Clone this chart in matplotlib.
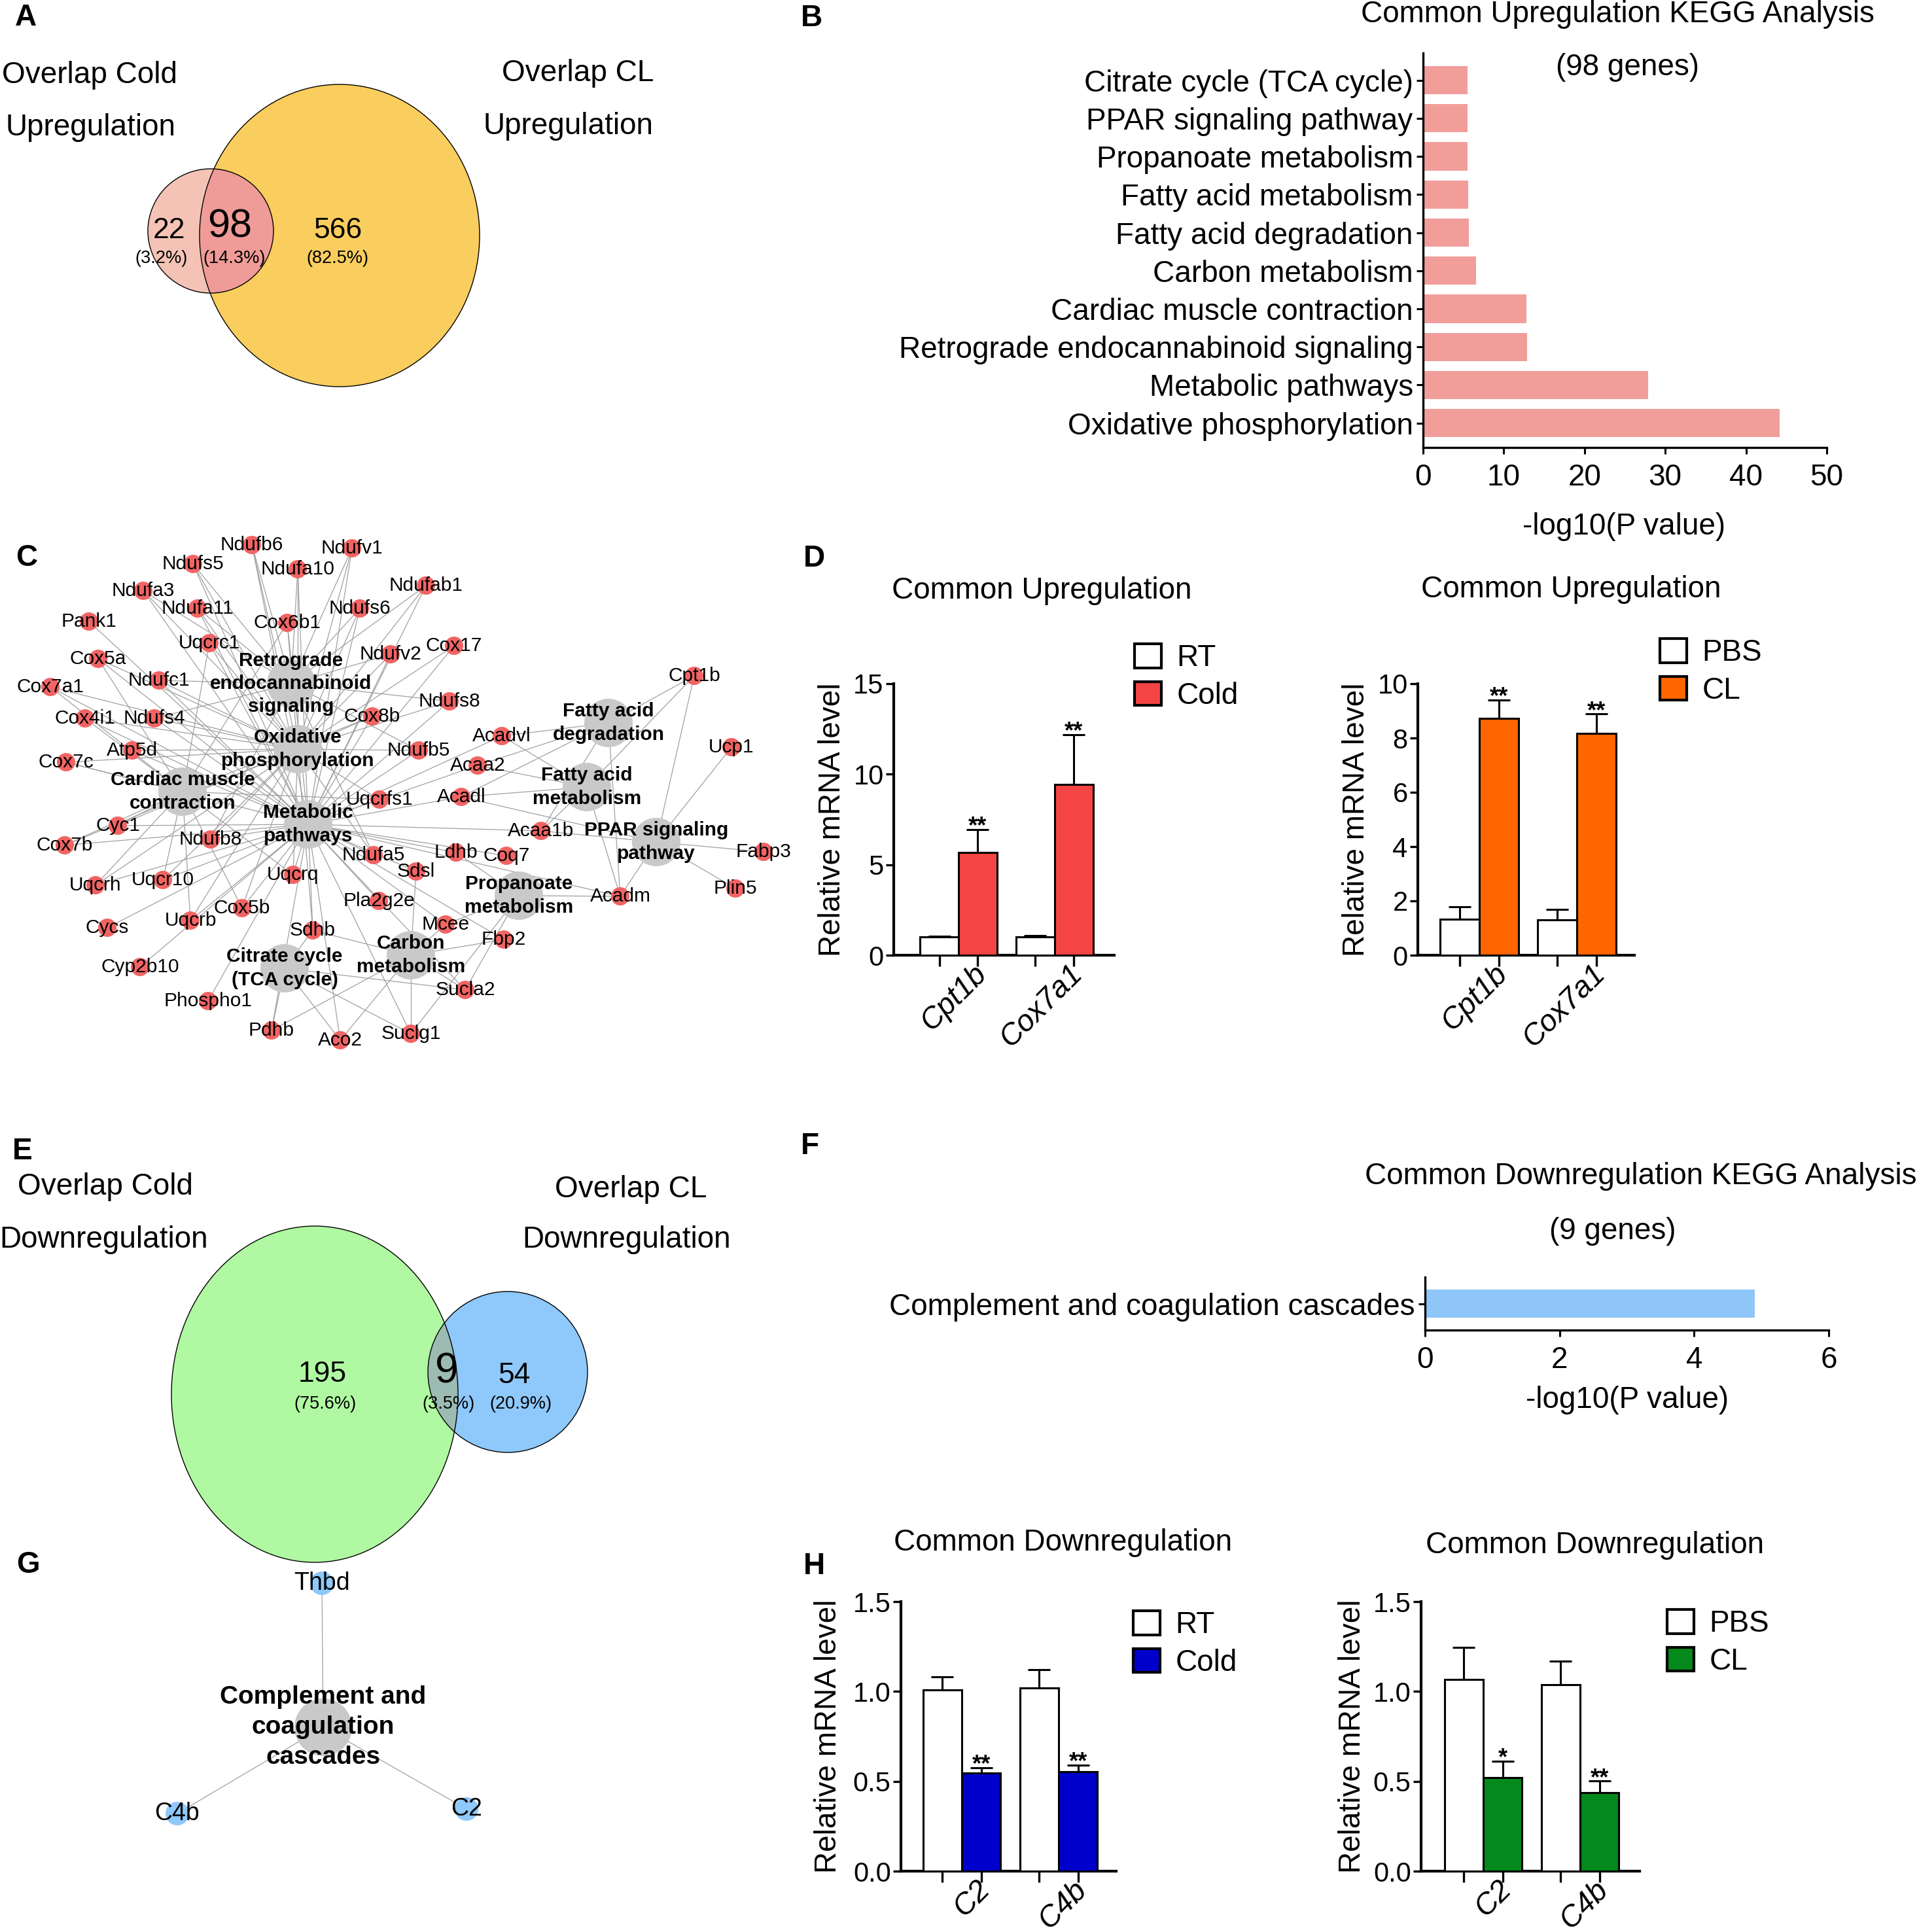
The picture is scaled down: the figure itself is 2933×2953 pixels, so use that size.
import matplotlib
matplotlib.use('Agg')
import matplotlib.pyplot as plt
from matplotlib.patches import Ellipse, Circle, Patch
from matplotlib.collections import LineCollection
import matplotlib.transforms as mtransforms
import numpy as np

plt.rcParams['font.family'] = ['Liberation Sans', 'DejaVu Sans']

# ---------------- data ----------------
venn_up_counts = ['22', '98', '566']
venn_up_pcts = ['(3.2%)', '(14.3%)', '(82.5%)']
venn_down_counts = ['195', '9', '54']
venn_down_pcts = ['(75.6%)', '(3.5%)', '(20.9%)']

kegg_up_terms = ['Citrate cycle (TCA cycle)', 'PPAR signaling pathway', 'Propanoate metabolism',
                 'Fatty acid metabolism', 'Fatty acid degradation', 'Carbon metabolism',
                 'Cardiac muscle contraction', 'Retrograde endocannabinoid signaling',
                 'Metabolic pathways', 'Oxidative phosphorylation']
kegg_up_values = [5.5, 5.5, 5.5, 5.6, 5.7, 6.6, 12.8, 12.9, 27.9, 44.2]
kegg_down_terms = ['Complement and coagulation cascades']
kegg_down_values = [4.9]

genes_up = ['Cpt1b', 'Cox7a1']
rt_up = [1.0, 1.0]
rt_up_err = [0.05, 0.10]
cold_up = [5.69, 9.44]
cold_up_err = [1.26, 2.75]
pbs_up = [1.33, 1.29]
pbs_up_err = [0.46, 0.39]
cl_up = [8.72, 8.16]
cl_up_err = [0.68, 0.72]
stars_cold_up = ['**', '**']
stars_cl_up = ['**', '**']

genes_down = ['C2', 'C4b']
rt_down = [1.01, 1.02]
rt_down_err = [0.07, 0.10]
cold_down = [0.546, 0.555]
cold_down_err = [0.03, 0.035]
pbs_down = [1.065, 1.037]
pbs_down_err = [0.18, 0.13]
cl_down = [0.522, 0.438]
cl_down_err = [0.09, 0.064]
stars_cold_down = ['**', '**']
stars_cl_down = ['*', '**']

# network (panel C): pathway -> member genes
pathway_genes = {
    'Retrograde\nendocannabinoid\nsignaling': ['Ndufb6', 'Ndufv1', 'Ndufs5', 'Ndufa10', 'Ndufa3', 'Ndufab1',
                                               'Ndufa11', 'Ndufs6', 'Ndufv2', 'Ndufc1', 'Ndufs8', 'Ndufs4',
                                               'Ndufb5', 'Ndufb8', 'Ndufa5'],
    'Oxidative\nphosphorylation': ['Ndufb6', 'Ndufv1', 'Ndufs5', 'Ndufa10', 'Ndufa3', 'Ndufab1', 'Ndufa11',
                                   'Ndufs6', 'Ndufv2', 'Ndufc1', 'Ndufs8', 'Ndufs4', 'Ndufb5', 'Ndufb8',
                                   'Ndufa5', 'Uqcrc1', 'Uqcrfs1', 'Uqcrq', 'Uqcr10', 'Uqcrh', 'Uqcrb', 'Cyc1',
                                   'Cox6b1', 'Cox17', 'Cox5a', 'Cox7a1', 'Cox8b', 'Cox4i1', 'Cox7c', 'Cox7b',
                                   'Cox5b', 'Atp5d', 'Sdhb'],
    'Cardiac muscle\ncontraction': ['Cox4i1', 'Cox5a', 'Cox5b', 'Cox6b1', 'Cox7a1', 'Cox7b', 'Cox7c', 'Cox8b',
                                    'Uqcrc1', 'Uqcrfs1', 'Uqcrh', 'Uqcrq', 'Uqcr10', 'Uqcrb', 'Cyc1'],
    'Metabolic\npathways': ['Ndufb6', 'Ndufv1', 'Ndufs5', 'Ndufa10', 'Ndufa3', 'Ndufab1', 'Ndufa11', 'Ndufs6',
                            'Ndufv2', 'Ndufc1', 'Ndufs8', 'Ndufs4', 'Ndufb5', 'Ndufb8', 'Ndufa5', 'Uqcrc1',
                            'Uqcrfs1', 'Uqcrq', 'Uqcr10', 'Uqcrh', 'Uqcrb', 'Cyc1', 'Cox6b1', 'Cox17', 'Cox5a',
                            'Cox7a1', 'Cox8b', 'Cox4i1', 'Cox7c', 'Cox7b', 'Cox5b', 'Atp5d', 'Sdhb', 'Pank1',
                            'Cycs', 'Cyp2b10', 'Phospho1', 'Pdhb', 'Aco2', 'Suclg1', 'Sucla2', 'Fbp2', 'Mcee',
                            'Sdsl', 'Ldhb', 'Coq7', 'Pla2g2e', 'Acadm', 'Acadvl', 'Acaa2', 'Acadl', 'Acaa1b'],
    'Fatty acid\ndegradation': ['Acadvl', 'Acaa2', 'Acadl', 'Acadm', 'Acaa1b', 'Cpt1b'],
    'Fatty acid\nmetabolism': ['Acadvl', 'Acaa2', 'Acadl', 'Acadm', 'Acaa1b', 'Cpt1b'],
    'PPAR signaling\npathway': ['Cpt1b', 'Ucp1', 'Fabp3', 'Plin5', 'Acadl', 'Acadm', 'Acaa1b'],
    'Propanoate\nmetabolism': ['Ldhb', 'Mcee', 'Acadm', 'Sucla2', 'Suclg1'],
    'Carbon\nmetabolism': ['Sdhb', 'Pdhb', 'Aco2', 'Sucla2', 'Suclg1', 'Fbp2', 'Mcee', 'Sdsl'],
    'Citrate cycle\n(TCA cycle)': ['Sdhb', 'Pdhb', 'Aco2', 'Sucla2', 'Suclg1'],
}
down_pathway_genes = {'Complement and\ncoagulation\ncascades': ['Thbd', 'C4b', 'C2']}

# ---------------- layout (figure pixels) ----------------
hub_xy = {
    'Retrograde\nendocannabinoid\nsignaling': (445, 1045),
    'Oxidative\nphosphorylation': (455, 1145),
    'Cardiac muscle\ncontraction': (279, 1210),
    'Metabolic\npathways': (471, 1260),
    'Fatty acid\ndegradation': (930, 1105),
    'Fatty acid\nmetabolism': (897, 1203),
    'PPAR signaling\npathway': (1003, 1287),
    'Propanoate\nmetabolism': (793, 1369),
    'Carbon\nmetabolism': (628, 1460),
    'Citrate cycle\n(TCA cycle)': (435, 1480),
}
gene_xy = {
    'Ndufb6': (385, 833), 'Ndufv1': (538, 838), 'Ndufs5': (295, 862), 'Ndufa10': (455, 870),
    'Ndufa3': (219, 903), 'Ndufab1': (651, 895), 'Ndufa11': (302, 930), 'Ndufs6': (550, 930),
    'Pank1': (136, 950), 'Cox6b1': (439, 952), 'Uqcrc1': (320, 983), 'Cox17': (694, 987),
    'Ndufv2': (597, 1000), 'Cox5a': (150, 1007), 'Cpt1b': (1061, 1033), 'Ndufc1': (243, 1040),
    'Cox7a1': (77, 1050), 'Ndufs8': (687, 1072), 'Cox8b': (569, 1095), 'Cox4i1': (130, 1098),
    'Ndufs4': (236, 1098), 'Acadvl': (767, 1125), 'Ucp1': (1118, 1142), 'Atp5d': (202, 1147),
    'Ndufb5': (640, 1147), 'Cox7c': (101, 1165), 'Acaa2': (730, 1170), 'Acadl': (705, 1218),
    'Uqcrfs1': (580, 1222), 'Cyc1': (180, 1262), 'Acaa1b': (827, 1270), 'Ndufb8': (322, 1283),
    'Cox7b': (99, 1292), 'Fabp3': (1167, 1302), 'Ldhb': (697, 1303), 'Ndufa5': (571, 1307),
    'Coq7': (774, 1308), 'Sdsl': (636, 1332), 'Uqcrq': (448, 1337), 'Uqcr10': (249, 1345),
    'Uqcrh': (146, 1353), 'Plin5': (1124, 1358), 'Acadm': (948, 1370), 'Pla2g2e': (579, 1377),
    'Cox5b': (370, 1388), 'Uqcrb': (291, 1407), 'Mcee': (681, 1413), 'Cycs': (164, 1418),
    'Sdhb': (478, 1422), 'Fbp2': (770, 1436), 'Cyp2b10': (214, 1478), 'Sucla2': (711, 1513),
    'Phospho1': (318, 1530), 'Pdhb': (415, 1575), 'Suclg1': (628, 1580), 'Aco2': (520, 1590),
}
down_hub_xy = {'Complement and\ncoagulation\ncascades': (494, 2640)}
down_gene_xy = {'Thbd': (492, 2420), 'C4b': (271, 2772), 'C2': (713, 2765)}

W, H = 2933, 2953
fig = plt.figure(figsize=(W / 100, H / 100), dpi=100)
canvas = fig.add_axes([0, 0, 1, 1])
canvas.set_xlim(0, W)
canvas.set_ylim(H, 0)
canvas.axis('off')

FS = 33


def add_ax(left, top, width, height):
    return fig.add_axes([left / W, 1 - (top + height) / H, width / W, height / H])


def txt(x, y, s, size=FS, **kw):
    kw.setdefault('ha', 'center')
    kw.setdefault('va', 'center')
    canvas.text(x, y, s, fontsize=size, **kw)


# panel letters
for letter, (lx, ly) in {'A': (23, 27), 'B': (1224, 28), 'C': (24, 853), 'D': (1228, 854),
                         'E': (19, 1760), 'F': (1224, 1752), 'G': (25, 2392), 'H': (1228, 2394)}.items():
    txt(lx, ly, letter, size=33, fontweight='bold', ha='left')


# ---------------- Venn diagrams ----------------
def venn(c_a, s_a, col_a, c_b, s_b, col_b, col_ov):
    ea = Ellipse(c_a, s_a[0], s_a[1], facecolor=col_a, edgecolor='none', zorder=1)
    eb = Ellipse(c_b, s_b[0], s_b[1], facecolor=col_b, edgecolor='none', zorder=1.5)
    canvas.add_patch(ea)
    canvas.add_patch(eb)
    ov = Ellipse(c_b, s_b[0], s_b[1], facecolor=col_ov, edgecolor='none', zorder=2)
    canvas.add_patch(ov)
    ov.set_clip_path(ea)
    for c, s in [(c_a, s_a), (c_b, s_b)]:
        canvas.add_patch(Ellipse(c, s[0], s[1], facecolor='none', edgecolor='black', lw=1.0, zorder=3))


# A
venn((519, 360), (428, 462), '#F9CD5E', (322, 353), (192, 190), '#F4C3B6', '#EF9C98')
txt(137, 115, 'Overlap Cold')
txt(139, 195, 'Upregulation')
txt(883, 112, 'Overlap CL')
txt(869, 193, 'Upregulation')
txt(258, 353, venn_up_counts[0], size=32)
txt(351, 347, venn_up_counts[1], size=44)
txt(516, 353, venn_up_counts[2], size=32)
txt(247, 395, venn_up_pcts[0], size=19.5)
txt(358, 395, venn_up_pcts[1], size=19.5)
txt(516, 395, venn_up_pcts[2], size=19.5)

# E
venn((481, 2131), (438, 514), '#B0F8A2', (776, 2097), (244, 246), '#8FC8FA', '#9CBBB2')
txt(161, 1814, 'Overlap Cold')
txt(159, 1895, 'Downregulation')
txt(964, 1818, 'Overlap CL')
txt(958, 1895, 'Downregulation')
txt(493, 2100, venn_down_counts[0], size=32)
txt(683, 2096, venn_down_counts[1], size=46)
txt(786, 2102, venn_down_counts[2], size=32)
txt(497, 2146, venn_down_pcts[0], size=19.5)
txt(685, 2146, venn_down_pcts[1], size=19.5)
txt(796, 2146, venn_down_pcts[2], size=19.5)


# ---------------- networks ----------------
def network(pg, hxy, gxy, gene_col, gene_r, hub_r, gene_size, hub_size, hub_ls):
    segs = [(hxy[h], gxy[g]) for h in pg for g in pg[h]]
    canvas.add_collection(LineCollection(segs, colors='#A0A0A0', linewidths=0.9, zorder=1))
    for h, (x, y) in hxy.items():
        canvas.add_patch(Circle((x, y), hub_r, facecolor='#C9C9C9', edgecolor='none', zorder=2))
    for g, (x, y) in gxy.items():
        canvas.add_patch(Circle((x, y), gene_r, facecolor=gene_col, edgecolor='none', zorder=2))
    for g, (x, y) in gxy.items():
        canvas.text(x, y, g, fontsize=gene_size, ha='center', va='center', zorder=3)
    for h, (x, y) in hxy.items():
        canvas.text(x, y, h, fontsize=hub_size, fontweight='bold', ha='center', va='center',
                    multialignment='center', linespacing=hub_ls, zorder=3)


network(pathway_genes, hub_xy, gene_xy, '#F26464', 14, 37, 21.5, 21.5, 1.32)
network(down_pathway_genes, down_hub_xy, down_gene_xy, '#8FC8FA', 18, 44, 27, 28, 1.35)


# ---------------- KEGG bar charts ----------------
def style(ax, lw=2.4):
    for s in ['top', 'right']:
        ax.spines[s].set_visible(False)
    for s in ['left', 'bottom']:
        ax.spines[s].set_linewidth(lw)
    ax.set_facecolor('none')


axB = add_ax(2175, 81, 617, 603)
yB = np.arange(len(kegg_up_terms))
axB.barh(yB, kegg_up_values, height=0.74, color='#F19E9B', zorder=2)
axB.set_xlim(0, 50)
axB.set_ylim(9.64, -0.713)
axB.set_yticks(yB)
axB.set_yticklabels(kegg_up_terms)
axB.set_xticks([0, 10, 20, 30, 40, 50])
style(axB)
axB.tick_params(axis='both', direction='out', length=7, width=2.2, labelsize=FS)
axB.tick_params(axis='x', pad=10)
axB.tick_params(axis='y', pad=4)
txt(2472, 22, 'Common Upregulation KEGG Analysis')
txt(2487, 103, '(98 genes)')
txt(2482, 805, '-log10(P value)')

axF = add_ax(2178, 1952, 617, 81)
yF = np.arange(len(kegg_down_terms))
axF.barh(yF, kegg_down_values, height=0.53, color='#8FC6FA', zorder=2)
axF.set_xlim(0, 6)
axF.set_ylim(-0.5, 0.5)
axF.set_yticks(yF)
axF.set_yticklabels(kegg_down_terms)
axF.set_xticks([0, 2, 4, 6])
style(axF)
axF.tick_params(axis='both', direction='out', length=7, width=2.2, labelsize=FS)
axF.tick_params(axis='x', pad=10)
axF.tick_params(axis='y', pad=4)
txt(2508, 1798, 'Common Downregulation KEGG Analysis')
txt(2465, 1882, '(9 genes)')
txt(2487, 2140, '-log10(P value)')


# ---------------- qPCR grouped bars ----------------
def grouped(box, xlim, genes, ctrl, ctrl_err, trt, trt_err, stars, ymax, yticks, ytlabels,
            trt_color, labels, legend_xy, title, title_xy, ylabel_x):
    ax = add_ax(*box)
    x = np.arange(len(genes))
    w = 0.4
    lw = 2.2
    ax.errorbar(x - w / 2, ctrl, yerr=[np.zeros(len(ctrl)), ctrl_err], fmt='none', ecolor='black',
                elinewidth=lw, capsize=12, capthick=lw, zorder=2)
    ax.errorbar(x + w / 2, trt, yerr=[np.zeros(len(trt)), trt_err], fmt='none', ecolor='black',
                elinewidth=lw, capsize=12, capthick=lw, zorder=2)
    ax.bar(x - w / 2, ctrl, w, color='white', edgecolor='black', linewidth=lw, zorder=3)
    ax.bar(x + w / 2, trt, w, color=trt_color, edgecolor='black', linewidth=lw, zorder=3)
    for xi, v, e, s in zip(x + w / 2, trt, trt_err, stars):
        ax.annotate(s, (xi, v + e), xytext=(0, -4), textcoords='offset points', ha='center',
                    va='baseline', fontsize=26, fontweight='bold')
    ax.set_xlim(*xlim)
    ax.set_ylim(0, ymax)
    ax.set_yticks(yticks)
    ax.set_yticklabels(ytlabels)
    ax.set_xticks(np.concatenate([x - w / 2, x + w / 2]))
    ax.set_xticklabels([])
    style(ax, lw=3)
    ax.tick_params(axis='y', direction='out', length=9, width=2.4, labelsize=30, pad=2)
    ax.tick_params(axis='x', direction='out', length=12, width=2.4)
    off = mtransforms.offset_copy(ax.get_xaxis_transform(), fig=fig, x=0, y=-6, units='dots')
    for xi, g in zip(x, genes):
        ax.text(xi + 0.14, 0, g, transform=off, rotation=45, ha='right', va='top',
                rotation_mode='anchor', fontsize=33, fontstyle='italic')
    handles = [Patch(facecolor='white', edgecolor='black', linewidth=3),
               Patch(facecolor=trt_color, edgecolor='black', linewidth=3)]
    ax.legend(handles, labels, loc='upper left', bbox_to_anchor=legend_xy,
              bbox_transform=canvas.transData, frameon=False, borderpad=0, borderaxespad=0,
              handlelength=0.9, handleheight=0.85, handletextpad=0.5, labelspacing=0.3, fontsize=FS)
    txt(title_xy[0], title_xy[1], title)
    txt(ylabel_x, box[1] + box[3] / 2, 'Relative mRNA level', rotation=90)
    return ax


grouped((1366, 1045, 337, 415), (-0.673, 1.62), genes_up, rt_up, rt_up_err, cold_up, cold_up_err,
        stars_cold_up, 15, [0, 5, 10, 15], ['0', '5', '10', '15'], '#F54444', ['RT', 'Cold'],
        (1734, 984), 'Common Upregulation', (1592, 903), 1272)
grouped((2167, 1045, 331, 415), (-0.631, 1.59), genes_up, pbs_up, pbs_up_err, cl_up, cl_up_err,
        stars_cl_up, 10, [0, 2, 4, 6, 8, 10], ['0', '2', '4', '6', '8', '10'], '#FF6600', ['PBS', 'CL'],
        (2537, 976), 'Common Upregulation', (2401, 901), 2073)
grouped((1377, 2448, 329, 412), (-0.628, 1.595), genes_down, rt_down, rt_down_err, cold_down,
        cold_down_err, stars_cold_down, 1.5, [0, 0.5, 1.0, 1.5], ['0.0', '0.5', '1.0', '1.5'],
        '#0000CD', ['RT', 'Cold'], (1732, 2462), 'Common Downregulation', (1625, 2358), 1266)
grouped((2172, 2448, 334, 412), (-0.642, 1.615), genes_down, pbs_down, pbs_down_err, cl_down,
        cl_down_err, stars_cl_down, 1.5, [0, 0.5, 1.0, 1.5], ['0.0', '0.5', '1.0', '1.5'],
        '#06891C', ['PBS', 'CL'], (2548, 2460), 'Common Downregulation', (2438, 2362), 2067)

fig.savefig('out.png', dpi=100)
